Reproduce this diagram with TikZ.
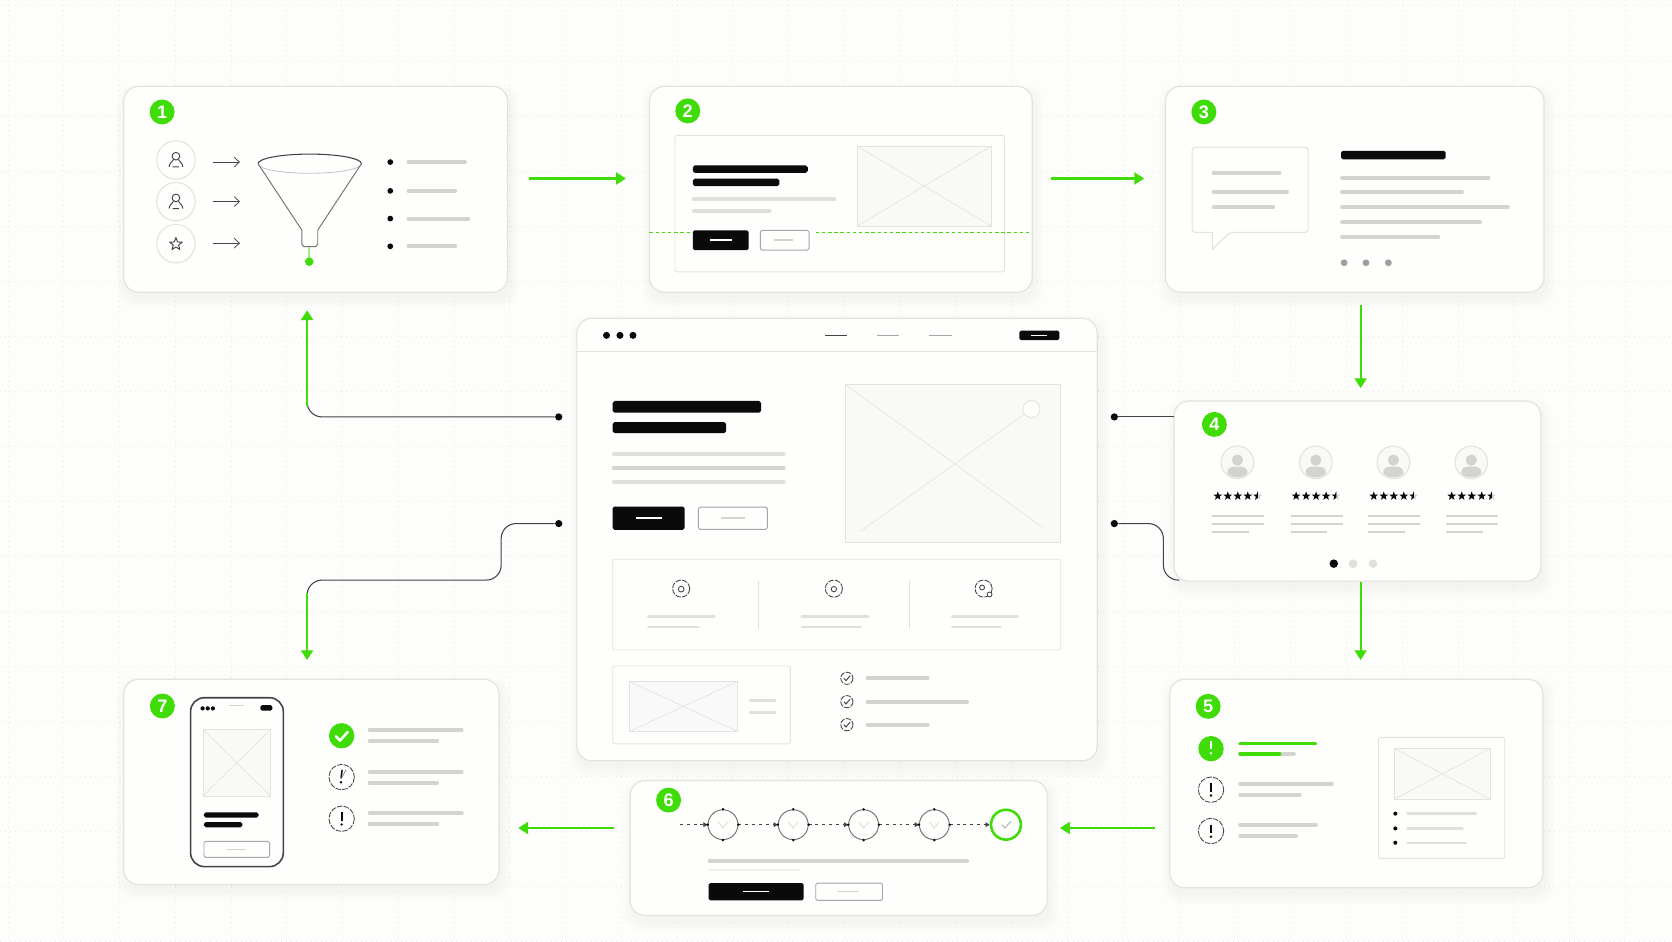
\documentclass[tikz,border=0pt]{standalone}
\usepackage{fontspec}
\setmainfont{Liberation Sans}
\usetikzlibrary{arrows.meta,calc}
\definecolor{bgc}{HTML}{FDFDFC}
\definecolor{gridc}{HTML}{EAEAE8}
\definecolor{edgec}{HTML}{E2E2E0}
\definecolor{cardc}{HTML}{FEFEFD}
\definecolor{barc}{HTML}{D3D3D2}
\definecolor{lightbar}{HTML}{DFDFDE}
\definecolor{lime}{HTML}{3FDC08}
\definecolor{ink}{HTML}{0A0A0A}
\definecolor{wire}{HTML}{444444}
\definecolor{imgc}{HTML}{F9F9F8}
\definecolor{imge}{HTML}{E2E2E0}
\tikzset{
  x=0.5pt,y=-0.5pt,
  gridline/.style={gridc,line width=.45pt,dash pattern=on .45pt off 1.9pt},
  cardbox/.style={draw=edgec,fill=cardc,line width=.55pt,rounded corners=7pt,inner sep=0pt,outer sep=0pt},
  badge/.style={circle,fill=lime,text=white,font=\bfseries\fontsize{8.5}{9}\selectfont,minimum size=11.7pt,inner sep=0pt},
  gbar/.style={barc,line width=1.8pt,line cap=round},
  tbar/.style={lightbar,line width=1.7pt,line cap=round},
  garrow/.style={lime,line width=.95pt,-{Triangle[length=4.6pt,width=5.6pt]}},
  gline/.style={lime,line width=.95pt},
  wireline/.style={wire,line width=.5pt,rounded corners=7pt},
  enddot/.style={circle,fill=ink,minimum size=3.4pt,inner sep=0pt},
  thinarrow/.style={wire,line width=.35pt,-{Straight Barb[length=2.4pt,width=4.6pt]}},
  iconline/.style={wire,line width=.4pt},
  outlinebtn/.style={draw=gray!70,fill=cardc,line width=.45pt,rounded corners=.8pt},
  blackbtn/.style={fill=ink,rounded corners=.8pt},
  panel/.style={draw=imge,line width=.4pt,rounded corners=1pt},
  dashring/.style={wire,line width=.4pt,dash pattern=on 2.6pt off .6pt},
  stepring/.style={circle,draw=gray!90!black,line width=.45pt,minimum size=14pt,inner sep=0pt},
  stepflow/.style={wire,line width=.4pt,dash pattern=on 1.4pt off 1.8pt,-{Triangle[length=2pt,width=2.2pt]}},
}
\newcommand{\CardNode}[5]{%
  \foreach \k in {1,...,9}{\fill[black,opacity=.0045,rounded corners=8pt] (#2-\k+2,#3-\k+6) rectangle (#4+\k+2,#5+\k+6);}
  \node[cardbox,minimum width={(#4-#2)*0.5pt},minimum height={(#5-#3)*0.5pt}] (#1) at ({(#2+#4)/2},{(#3+#5)/2}) {};}
\newcommand{\GB}[3]{\draw[gbar] (#1,#3) -- (#2,#3);}
\newcommand{\TB}[3]{\draw[tbar] (#1,#3) -- (#2,#3);}
\newcommand{\KB}[4]{\fill[ink,rounded corners=.9pt] (#1,#3-#4/2) rectangle (#2,#3+#4/2);}
\newcommand{\XImg}[5][imgc]{\draw[imge,line width=.4pt,fill=#1] (#2,#3) rectangle (#4,#5);\draw[imge,line width=.3pt] (#2,#3) -- (#4,#5) (#2,#5) -- (#4,#3);}
\newcommand{\Person}[2]{\draw[iconline,line width=.45pt] (#1,#2-3.5) circle (3.6) (#1-6.5,#2+6.5) .. controls (#1-6,#2+2.5) and (#1-3.5,#2+2) .. (#1-2.5,#2) (#1+6.5,#2+6.5) .. controls (#1+6,#2+2.5) and (#1+3.5,#2+2) .. (#1+2.5,#2) (#1-3,#2+6.5) -- (#1+3,#2+6.5);}
\newcommand{\StarPath}[3]{(#1,#2) ++(-90:#3) -- ++(0,0) -- ($(#1,#2)+(-54:#3*.42)$) -- ($(#1,#2)+(-18:#3)$) -- ($(#1,#2)+(18:#3*.42)$) -- ($(#1,#2)+(54:#3)$) -- ($(#1,#2)+(90:#3*.42)$) -- ($(#1,#2)+(126:#3)$) -- ($(#1,#2)+(162:#3*.42)$) -- ($(#1,#2)+(198:#3)$) -- ($(#1,#2)+(234:#3*.42)$) -- cycle}
\newcommand{\Excl}[3]{\draw[#3,line width=.95pt] (#1,#2-6) -- (#1,#2+1.8);\fill[#3] (#1,#2+5.4) circle (1.25);}
\newcommand{\Check}[3]{\draw[#3,line width=.45pt] (#1-2.8,#2) -- (#1-.8,#2+2.2) -- (#1+3,#2-2.4);}
\begin{document}
\begin{tikzpicture}
\useasboundingbox (0,0) rectangle (1568,882.5);
\fill[bgc] (0,0) rectangle (1568,882.5);
% grid
\foreach \g in {0,...,29}{\draw[gridline] ({7.5+52.3*\g},0) -- ({7.5+52.3*\g},882.5);}
\foreach \g in {0,...,17}{\draw[gridline] (0,{5.6+51.6*\g}) -- (1568,{5.6+51.6*\g});}
% cards
\CardNode{c1}{116}{81}{476}{274}
\CardNode{c2}{609}{81}{968}{274}
\CardNode{c3}{1093}{81}{1448}{274}
\CardNode{cm}{541}{298.5}{1029}{713.5}
\CardNode{c4}{1101}{376}{1445}{545}
\CardNode{c5}{1097}{637}{1447}{832.5}
\CardNode{c6}{591}{732}{982}{858.5}
\CardNode{c7}{116}{637}{468}{829.5}
% badges
\node[badge] (b1) at (152,105) {1};
\node[badge] (b2) at (645,104) {2};
\node[badge] (b3) at (1129,105) {3};
\node[badge] (b4) at (1138.8,398) {4};
\node[badge] (b5) at (1133,662.4) {5};
\node[badge] (b6) at (627,750.3) {6};
\node[badge] (b7) at (152.3,662.1) {7};
% green arrows
\coordinate (a1s) at (496,167.4); \coordinate (a1e) at (587,167.4);
\coordinate (a2s) at (985.5,167.4); \coordinate (a2e) at (1073,167.4);
\coordinate (a3s) at (1276,286); \coordinate (a3e) at (1276,364);
\coordinate (a4s) at (1276,546); \coordinate (a4e) at (1276,619);
\coordinate (a5s) at (1083,776.5); \coordinate (a5e) at (994,776.5);
\coordinate (a6s) at (576,776.5); \coordinate (a6e) at (486,776.5);
\draw[garrow] (a1s) -- (a1e);
\draw[garrow] (a2s) -- (a2e);
\draw[garrow] (a3s) -- (a3e);
\draw[garrow] (a4s) -- (a4e);
\draw[garrow] (a5s) -- (a5e);
\draw[garrow] (a6s) -- (a6e);
% connectors from the centre
\node[enddot] (d1) at (524,391) {};
\node[enddot] (d2) at (524,491) {};
\node[enddot] (d3) at (1045,391) {};
\node[enddot] (d4) at (1045,491) {};
\coordinate (g1a) at (288,381); \coordinate (g1b) at (288,291);
\coordinate (g2a) at (288,556); \coordinate (g2b) at (288,619);
\coordinate (d4e) at (1106,544);
\draw[wireline] (d1) -- (288,391) -- (g1a);
\draw[garrow] (g1a) -- (g1b);
\draw[wireline] (d2) -- (470,491) -- (470,544) -- (288,544) -- (g2a);
\draw[garrow] (g2a) -- (g2b);
\draw[wireline] (d3) -- (d3 -| c4.west);
\draw[wireline] (d4) -- (1091,491) -- (1091,544) -- (d4e);
% --- card 1
\foreach \y in {150,189.1,228.5}{\draw[edgec,line width=.5pt] (165,\y) circle (18);}
\Person{165}{150}
\Person{165}{189.1}
\draw[iconline,line join=round,line width=.45pt] \StarPath{165}{229}{6.2};
\foreach \y in {152,189,228}{\draw[thinarrow] (200,\y) -- (225,\y);}
\draw[gray!45,line width=.4pt] (242,153.5) arc[start angle=180,end angle=0,x radius=48.5,y radius=9];
\draw[wire,line width=.5pt] (242,153.5) arc[start angle=180,end angle=360,x radius=48.5,y radius=9];
\draw[gray!90!black,line width=.45pt,line join=round] (242,153.5) -- (283,215.7) -- (283,229) to[out=90,in=180] (285,231.3) -- (296,231.3) to[out=0,in=90] (298,229) -- (298,215.7) -- (339,153.5);
\draw[lime!50,line width=.9pt] (290,231.3) -- (290,245);
\fill[lime] (290,245.4) circle (4);
\foreach \y in {152,179,205,231}{\fill[ink] (366,\y) circle (2.7);}
\GB{383}{436}{152}
\GB{383}{427}{179}
\GB{383}{439}{205}
\GB{383}{427}{231}
% --- card 2
\draw[panel] (633,127) rectangle (942,255);
\XImg{803.8}{137}{929.6}{212}
\KB{649.7}{757.5}{158.6}{7}
\KB{649.7}{731}{171}{7}
\draw[tbar] (650.5,186.8) -- (782.5,186.8);
\draw[tbar] (650.5,198) -- (722,198);
\draw[lime,line width=.7pt,dash pattern=on 1.6pt off 1.3pt] (609,218) -- (650,218);
\draw[lime,line width=.7pt,dash pattern=on 1.6pt off 1.3pt] (765,218) -- (968,218);
\fill[blackbtn] (649.7,216) rectangle (702,234.6);
\draw[outlinebtn] (713,216) rectangle (758.7,234.6);
\draw[white,line width=.9pt] (666,225.3) -- (686,225.3);
\draw[barc,line width=.7pt] (726,225.3) -- (744,225.3);
% --- card 3
\draw[imge,line width=.5pt,rounded corners=1.5pt,fill=cardc] (1118,138) -- (1226.7,138) -- (1226.7,218) -- (1153.6,218) [sharp corners] -- (1137,233.6) -- (1137,218) [rounded corners=1.5pt] -- (1118,218) -- cycle;
\GB{1138}{1200}{162}
\GB{1138}{1207}{179.7}
\GB{1138}{1194}{194.4}
\KB{1257.6}{1355.8}{145.4}{8}
\GB{1258.5}{1396}{166.7}
\GB{1258.5}{1371}{180}
\GB{1258.5}{1414}{194.4}
\GB{1258.5}{1388}{208}
\GB{1258.5}{1349}{222}
\foreach \x in {1260.5,1281,1302}{\fill[gray!75] (\x,246.4) circle (3.2);}
% --- centre
\draw[edgec,line width=.45pt] (541,329.3) -- (1029,329.3);
\foreach \x in {568.8,581.4,593.6}{\fill[ink] (\x,314.5) circle (3.3);}
\draw[wire,line width=.6pt] (773.7,314.5) -- (793.9,314.5);
\draw[gray!70,line width=.6pt] (822,314.5) -- (843,314.5);
\draw[gray!70,line width=.6pt] (871,314.5) -- (892.4,314.5);
\fill[blackbtn] (956,310) rectangle (993.5,319);
\draw[white,line width=.5pt] (967,314.5) -- (982,314.5);
\KB{574.6}{713.7}{381.5}{11}
\KB{574.6}{680.9}{401}{10.5}
\TB{575.5}{735}{425.5}
\draw[tbar,barc] (575.5,438.6) -- (735,438.6);
\TB{575.5}{735}{452}
\fill[blackbtn] (574.6,475) rectangle (642,496.8);
\draw[outlinebtn] (655,475.5) rectangle (719.6,496.5);
\draw[white,line width=.9pt] (596,485.9) -- (621,485.9);
\draw[barc,line width=.7pt] (675.7,485.9) -- (698.7,485.9);
% hero image
\draw[imge,line width=.45pt,fill=imgc] (793,360.8) rectangle (994.7,508.3);
\draw[imge,line width=.3pt] (793,360.8) -- (978,494.9) (807.5,498) -- (961,388);
\draw[imge,line width=.45pt,fill=cardc] (967.3,383.6) circle (8);
% features
\draw[panel] (574.6,524.5) rectangle (994.7,609.6);
\draw[lightbar,line width=.4pt] (711.5,544.6) -- (711.5,590) (853.3,544.6) -- (853.3,590);
\foreach \x in {638.8,782,922.4}{\draw[dashring] (\x,552) circle (8);}
\draw[wire,line width=.4pt] (638.8,552.5) circle (2.7);
\draw[wire,line width=.4pt] (782,552.5) circle (2.5);
\draw[wire,line width=.4pt] (921,551) circle (2.3);
\draw[wire,line width=.4pt,fill=cardc] (928,557.5) circle (2.3);
\draw[tbar,line width=1.4pt] (608,577.7) -- (670,577.7);
\draw[tbar,line width=1.4pt] (608,588) -- (655,588);
\draw[tbar,line width=1.4pt] (752,577.7) -- (814,577.7);
\draw[tbar,line width=1.4pt] (752,588) -- (807,588);
\draw[tbar,line width=1.4pt] (893,577.7) -- (954,577.7);
\draw[tbar,line width=1.4pt] (893,588) -- (938,588);
% bottom left of centre
\draw[panel] (574.6,624.6) rectangle (741.2,697.6);
\XImg[imgc!80!gray!20]{590}{639}{691.8}{686}
\draw[tbar,line width=1.2pt] (703.5,657) -- (727,657);
\draw[tbar,line width=1.2pt] (703.5,668) -- (727,668);
\foreach \y in {636.1,658,679.6}{\draw[dashring,line width=.4pt] (794.2,\y) circle (5.7);\Check{794.2}{\y}{wire}}
\GB{813.5}{870}{636.1}
\GB{813.5}{907}{658}
\GB{813.5}{870}{679.6}
% --- card 4
\foreach \cx in {1160.4,1233.9,1306.7,1379.8}{
  \draw[imge,line width=.5pt,fill=imgc] (\cx,433.6) circle (15.3);
  \fill[barc] (\cx,431.5) circle (5.3);
  \fill[barc] (\cx-9.5,444) .. controls (\cx-10,438) and (\cx-5,437.5) .. (\cx,437.5) .. controls (\cx+5,437.5) and (\cx+10,438) .. (\cx+9.5,444) .. controls (\cx+5,449) and (\cx-5,449) .. cycle;
  \foreach \s in {0,1,2,3}{\fill[ink] \StarPath{\cx-18.4+9.38*\s}{465.2}{4.3};}
  \fill[barc] \StarPath{\cx+19.1}{465.2}{4.3};
  \begin{scope}\clip (\cx+14,458) rectangle (\cx+19.3,472);\fill[ink] \StarPath{\cx+19.1}{465.2}{4.3};\end{scope}
  \draw[barc,line width=.85pt] (\cx-23.4,483.6) -- (\cx+25.3,483.6);
  \draw[barc,line width=.85pt] (\cx-23.4,491.1) -- (\cx+25.3,491.1);
  \draw[barc,line width=.85pt] (\cx-23.4,498.9) -- (\cx+11,498.9);
}
\fill[ink] (1250.8,528.6) circle (4);
\fill[lightbar] (1268.9,528.6) circle (4);
\fill[lightbar] (1287.6,528.6) circle (4);
% --- card 5
\fill[lime] (1135.7,702.1) circle (11.9);
\Excl{1135.7}{701}{white}
\foreach \y in {740.6,779.3}{\draw[dashring] (1135.7,\y) circle (11.9);\Excl{1135.7}{\y}{ink}}
\draw[lime,line width=1.7pt,line cap=round] (1163,697.4) -- (1233.5,697.4);
\draw[gbar] (1163,706.8) -- (1213.5,706.8);
\draw[lime,line width=1.7pt,line cap=round] (1163,706.8) -- (1200,706.8);
\GB{1163}{1249}{734.9}
\GB{1163}{1219}{745.3}
\GB{1163}{1234}{773.4}
\GB{1163}{1215.5}{784}
\draw[panel] (1292.7,691.5) rectangle (1411.1,805);
\XImg{1307.4}{701.8}{1398}{749.6}
\foreach \y in {763,776.9,790.3}{\fill[ink] (1308.5,\y) circle (1.9);}
\draw[tbar,line width=1.1pt] (1320,763) -- (1384,763);
\draw[tbar,line width=1.1pt] (1320,776.9) -- (1371.5,776.9);
\draw[tbar,line width=1.1pt] (1320,790.3) -- (1374.5,790.3);
% --- card 6
\coordinate (s0) at (637.7,773.4);
\node[stepring] (s1) at (678,773.4) {};
\node[stepring] (s2) at (743.9,773.4) {};
\node[stepring] (s3) at (809.9,773.4) {};
\node[stepring] (s4) at (876.2,773.4) {};
\node[circle,draw=lime,line width=1.2pt,minimum size=14pt,inner sep=0pt] (s5) at (943.4,773.4) {};
\draw[stepflow] (s0) -- (s1);
\draw[stepflow] (s1) -- (s2);
\draw[stepflow] (s2) -- (s3);
\draw[stepflow] (s3) -- (s4);
\draw[stepflow] (s4) -- (s5);
\foreach \n in {s1,s2,s3,s4}{\foreach \a in {north,south,east,west}{\fill[ink] (\n.\a) circle (1.3);}}
\foreach \c in {s1,s2,s3,s4}{\draw[lightbar,line width=.45pt] ($(\c)+(-4.5,-2.5)$) -- ($(\c)+(0,3)$) -- ($(\c)+(4.5,-2.5)$);}
\draw[gray!50,line width=.6pt] ($(s5)+(-4,0)$) -- ($(s5)+(-1,3)$) -- ($(s5)+(4.5,-3)$);
\GB{665.5}{907}{807.4}
\draw[lightbar!50,line width=.9pt,line cap=round] (665,815.6) -- (750,815.6);
\fill[blackbtn] (664.5,828.1) rectangle (753.6,844.4);
\draw[outlinebtn] (765,828.1) rectangle (827.6,844.4);
\draw[white,line width=.6pt] (697,836) -- (721,836);
\draw[barc,line width=.6pt] (786,836) -- (805,836);
% --- card 7
\node[draw=wire,fill=cardc,line width=.75pt,rounded corners=6.5pt,minimum width=43.5pt,minimum height=79.2pt,inner sep=0pt] (ph) at (222.2,733.5) {};
\foreach \x in {190,194.8,199.6}{\fill[ink] (\x,664.3) circle (2);}
\draw[barc,line width=.5pt] (214.9,662) -- (228.9,662);
\fill[blackbtn] (244.2,661.2) rectangle (255.4,666.5);
\XImg{190.4}{684}{253.8}{746.5}
\KB{191.3}{242.6}{764.3}{5}
\KB{191.3}{227.4}{773.4}{5}
\draw[outlinebtn] (191.3,789) rectangle (252.8,804);
\draw[barc,line width=.5pt] (213.2,796.5) -- (230.7,796.5);
\fill[lime] (320.4,690) circle (11.9);
\draw[white,line width=1.2pt,line cap=round,line join=round] (315,690.5) -- (318.8,694.5) -- (326,686.5);
\draw[dashring] (320.4,728.7) circle (11.9);
\draw[ink,line width=.7pt] (320.8,722) -- (319.8,730);
\draw[gray,line width=.35pt] (324.5,722) -- (320,730);
\fill[ink] (319.8,733.6) circle (1.25);
\draw[dashring] (320.4,767.8) circle (11.9);
\Excl{320.4}{767.8}{ink}
\GB{346.5}{433}{684.6}
\GB{346.5}{410}{694.6}
\GB{346.5}{433}{724}
\GB{346.5}{410}{734}
\GB{346.5}{433}{762.8}
\GB{346.5}{410}{772.8}
\end{tikzpicture}
\end{document}
